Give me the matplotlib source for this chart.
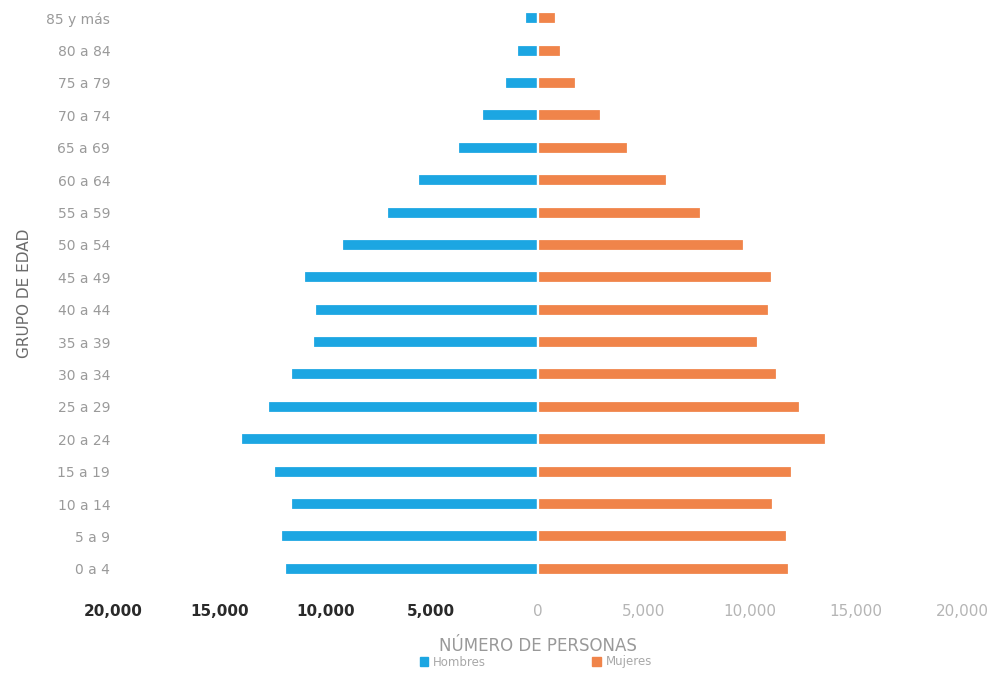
"""Pirámide de población por grupo de edad (hombres / mujeres)."""
import numpy as np
import matplotlib
matplotlib.use("Agg")
import matplotlib.pyplot as plt
from matplotlib.patches import Patch

# ── Data (miles de personas) ─────────────────────────────────────────────
grupos = ["0 a 4", "5 a 9", "10 a 14", "15 a 19", "20 a 24", "25 a 29",
          "30 a 34", "35 a 39", "40 a 44", "45 a 49", "50 a 54", "55 a 59",
          "60 a 64", "65 a 69", "70 a 74", "75 a 79", "80 a 84", "85 y más"]
hombres = [11900, 12100, 11600, 12400, 13950, 12700, 11600, 10600, 10500,
           11000, 9200, 7100, 5650, 3750, 2600, 1550, 950, 600]
mujeres = [11850, 11750, 11100, 12000, 13600, 12350, 11300, 10400, 10900,
           11050, 9750, 7700, 6100, 4250, 3000, 1800, 1100, 850]

xticks = [-20000, -15000, -10000, -5000, 0, 5000, 10000, 15000, 20000]

BLUE = "#1ca6e2"
ORANGE = "#f0844a"

fig = plt.figure(figsize=(9.92, 6.79), dpi=100)
ax = fig.add_axes([113 / 992, 1 - 585 / 679, 849 / 992, 583 / 679])

y = np.arange(len(grupos))
ax.barh(y, -np.asarray(hombres), height=0.37, color=BLUE,
        edgecolor="white", linewidth=1.6)
ax.barh(y, mujeres, height=0.37, color=ORANGE,
        edgecolor="white", linewidth=1.6)

ax.set_xlim(-20000, 20000)
ax.set_ylim(-0.5, len(grupos) - 0.5)

ax.set_yticks(y)
ax.set_yticklabels(grupos, fontsize=10, color="#9a9a9a")
ax.set_xticks(xticks)
ax.set_xticklabels([f"{abs(v):,}" for v in xticks], fontsize=11)
for lab, v in zip(ax.get_xticklabels(), xticks):
    if v < 0:
        lab.set_color("#2a2a2a")
        lab.set_fontweight("bold")
    else:
        lab.set_color("#b5b5b5")

ax.tick_params(axis="both", length=0)
ax.tick_params(axis="x", pad=14)
ax.tick_params(axis="y", pad=2)
for s in ax.spines.values():
    s.set_visible(False)

ax.set_ylabel("GRUPO DE EDAD", fontsize=11, color="#6a6a6a", labelpad=4)
ax.yaxis.set_label_coords(-0.095, 0.5)

fig.text(538 / 992, 1 - 646 / 679, "NÚMERO DE PERSONAS", ha="center",
         va="center", fontsize=12, color="#999999")

handles = [Patch(color=BLUE, label="Hombres"), Patch(color=ORANGE, label="Mujeres")]
fig.legend(handles=handles, loc="center", bbox_to_anchor=(536 / 992, 1 - 662 / 679),
           ncol=2, frameon=False, fontsize=8.5, labelcolor="#a8a8a8",
           handlelength=0.7, handleheight=0.7, handletextpad=0.4,
           columnspacing=9)

fig.savefig("out.png", dpi=100)
